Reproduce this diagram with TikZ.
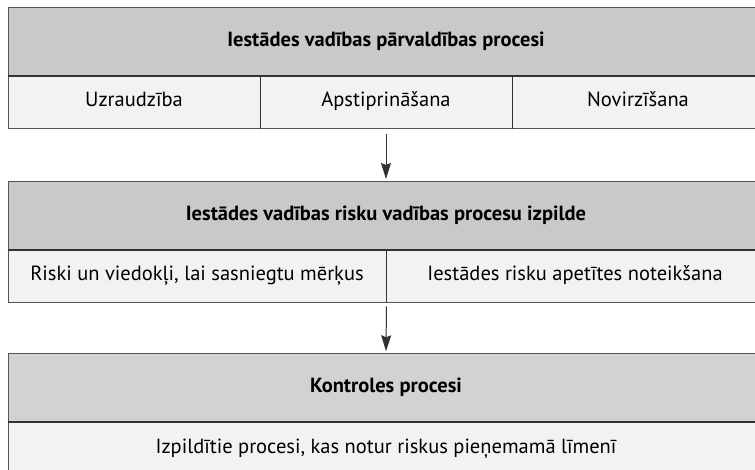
\documentclass[tikz,border=0pt]{standalone}
\usepackage{fontspec}
\setmainfont{PT Sans}
\usepackage{tikz}
\usetikzlibrary{arrows.meta}
\definecolor{headgray}{RGB}{200,201,203}
\definecolor{headlight}{RGB}{209,210,212}
\definecolor{cellgray}{RGB}{241,242,243}
\definecolor{rimgray}{RGB}{85,85,87}
\definecolor{sepdark}{RGB}{50,50,52}
\begin{document}
\begin{tikzpicture}[x=1pt,y=-1pt,
  head/.style={draw=rimgray,line width=0.9pt,fill=headgray,minimum width=756pt,
    minimum height=68pt,inner sep=0pt,text height=14pt,text depth=4pt,
    font=\fontsize{20.5}{24}\selectfont\bfseries},
  cell/.style={draw=rimgray,line width=0.9pt,fill=cellgray,minimum height=53pt,
    inner sep=0pt,text height=14pt,text depth=4pt,font=\fontsize{20.5}{24}\selectfont},
  sep/.style={draw=sepdark,line width=1.7pt},
  flow/.style={draw=sepdark,line width=1pt,-{Stealth[length=16pt,width=10pt,inset=2pt]}}]

\useasboundingbox (0,0) rectangle (755,470);
\clip (0,0) rectangle (755,470);

\node[head] (h1) at (386,41.8) {Iestādes vadības pārvaldības procesi};
\node[cell,minimum width=252pt] (c11) at (134,101.8) {Uzraudzība};
\node[cell,minimum width=252pt] (c12) at (386,101.8) {Apstiprināšana};
\node[cell,minimum width=252pt] (c13) at (638,101.8) {Novirzīšana};
\draw[sep] (h1.south west) -- (h1.south east);
\draw[sep] (c11.north east) -- (c11.south east);
\draw[sep] (c12.north east) -- (c12.south east);

\node[head] (h2) at (386,215.4) {Iestādes vadības risku vadības procesu izpilde};
\node[cell,minimum width=378pt] (c21) at (197,275.5) {Riski un viedokļi, lai sasniegtu mērķus};
\node[cell,minimum width=378pt] (c22) at (575,275.5) {Iestādes risku apetītes noteikšana};
\draw[sep] (h2.south west) -- (h2.south east);
\draw[sep] (c21.north east) -- (c21.south east);

\node[head,fill=headlight] (h3) at (386,387.7) {Kontroles procesi};
\node[cell,minimum width=756pt] (c31) at (386,448) {Izpildītie procesi, kas notur riskus pieņemamā līmenī};
\draw[sep] (h3.south west) -- (h3.south east);

\draw[flow,shorten >=2pt] ([yshift=-5pt]c12.south) -- (h2.north);
\draw[flow,shorten >=2pt] ([yshift=-4pt]c21.south east) -- (h3.north);
\end{tikzpicture}
\end{document}
